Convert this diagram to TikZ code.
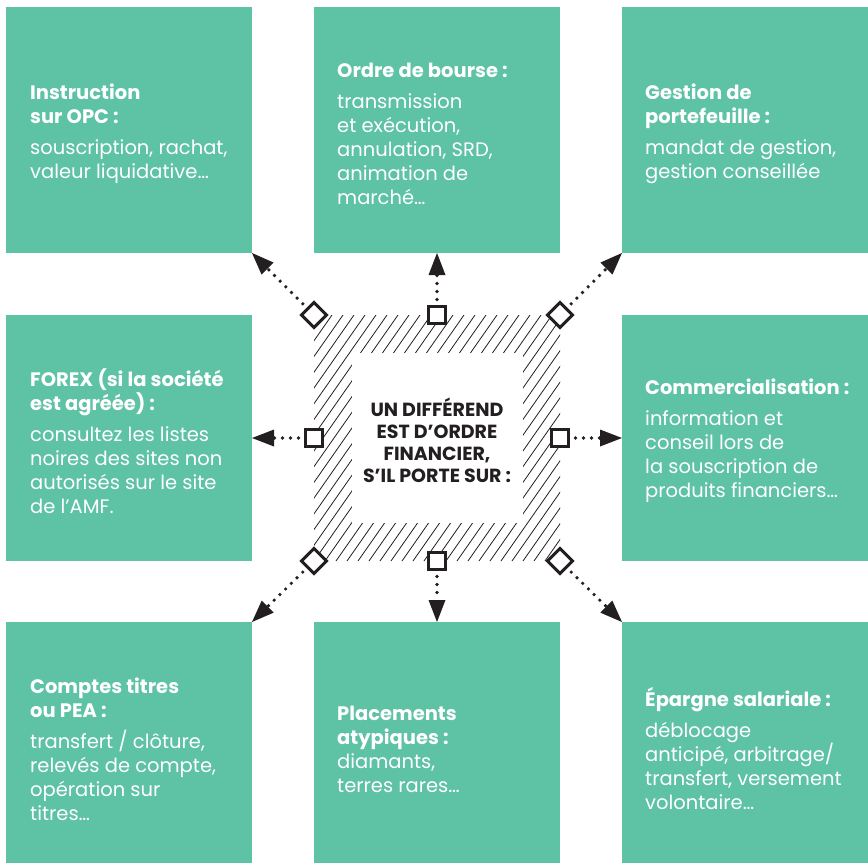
\documentclass[tikz,border=0pt]{standalone}
\usepackage{fontspec}
\setmainfont{Poppins}
\usetikzlibrary{arrows.meta,shapes.geometric,calc}
\definecolor{tealbox}{RGB}{94,194,164}
\definecolor{ink}{RGB}{35,31,32}
\newcommand{\ttl}[1]{{\bfseries #1}}
\begin{document}
\begin{tikzpicture}[x=1pt,y=-1pt,
  tile/.style={fill=tealbox, draw=none, minimum width=246pt, minimum height=246pt, inner sep=0pt, outer sep=0pt},
  tilelow/.style={tile, minimum height=241pt},
  txt/.style={anchor=west, text=white, align=left, inner sep=0pt, font=\fontsize{19.5}{24}\selectfont},
  ctr/.style={text=ink, align=center, inner sep=0pt, font=\bfseries\fontsize{19}{22}\selectfont},
  sqm/.style={draw=ink, fill=white, line width=3pt, minimum size=17pt, inner sep=0pt, outer sep=0pt},
  dmm/.style={diamond, aspect=1, draw=ink, fill=white, line width=3pt, minimum size=25pt, inner sep=0pt, outer sep=0pt},
  hatchline/.style={draw=ink, line width=0.8pt},
  conn/.style={draw=ink, line width=3.6pt, dash pattern=on 0pt off 8pt, line cap=round, shorten <=7pt,
    -{Triangle[length=22pt,width=17pt,line width=0pt]}}
]
\useasboundingbox (0,0) rectangle (868,863);

% tiles
\node[tile] (b1) at (129,130) {};
\node[tile] (b2) at (437,130) {};
\node[tile] (b3) at (745,130) {};
\node[tile] (b4) at (129,438) {};
\node[tile] (b6) at (745,438) {};
\node[tilelow] (b7) at (129,742.5) {};
\node[tilelow] (b8) at (437,742.5) {};
\node[tilelow] (b9) at (745,742.5) {};

% texts
\node[txt] (t1) at (30,134) {\ttl{Instruction}\\\ttl{sur OPC :}\\[7pt]souscription, rachat,\\valeur liquidative…};
\node[txt] (t2) at (337,134) {\ttl{Ordre de bourse :}\\[7pt]transmission\\et exécution,\\annulation, SRD,\\animation de\\marché…};
\node[txt] (t3) at (645,134) {\ttl{Gestion de}\\\ttl{portefeuille :}\\[7pt]mandat de gestion,\\gestion conseillée};
\node[txt] (t4) at (30,441) {\ttl{FOREX (si la société}\\\ttl{est agréée) :}\\[7pt]consultez les listes\\noires des sites non\\autorisés sur le site\\de l’AMF.};
\node[txt] (t6) at (645,441) {\ttl{Commercialisation :}\\[7pt]information et\\conseil lors de\\la souscription de\\produits financiers…};
\node[txt] (t7) at (30,749) {\ttl{Comptes titres}\\\ttl{ou PEA :}\\[7pt]transfert / clôture,\\relevés de compte,\\opération sur\\titres…};
\node[txt] (t8) at (337,749) {\ttl{Placements}\\\ttl{atypiques :}\\diamants,\\terres rares…};
\node[txt] (t9) at (645,749) {\ttl{Épargne salariale :}\\[7pt]déblocage\\anticipé, arbitrage/\\transfert, versement\\volontaire…};

% hatched frame
\begin{scope}
  \clip (314,315) rectangle (560,561);
  \foreach \i in {-16,...,23} {
    \draw[hatchline] ({314+\i*11},561) -- ++(172,-246);
  }
\end{scope}
\fill[white] (352,353) rectangle (523,523);
\node[ctr] (c) at (437,440) {UN DIFFÉREND\\EST D’ORDRE\\FINANCIER,\\S’IL PORTE SUR :};

% markers
\node[sqm] (mT) at (437,315) {};
\node[sqm] (mB) at (437,561) {};
\node[sqm] (mL) at (314,438) {};
\node[sqm] (mR) at (560,438) {};
\node[dmm] (mTL) at (314,315) {};
\node[dmm] (mTR) at (560,315) {};
\node[dmm] (mBL) at (314,561) {};
\node[dmm] (mBR) at (560,561) {};

% connectors
\draw[conn] (mT) -- (b2.south);
\draw[conn] (mB) -- (b8.north);
\draw[conn] (mL) -- (b4.east);
\draw[conn] (mR) -- (b6.west);
\draw[conn] (mTL) -- (b1.south east);
\draw[conn] (mTR) -- (b3.south west);
\draw[conn] (mBL) -- (b7.north east);
\draw[conn] (mBR) -- (b9.north west);
\end{tikzpicture}
\end{document}
